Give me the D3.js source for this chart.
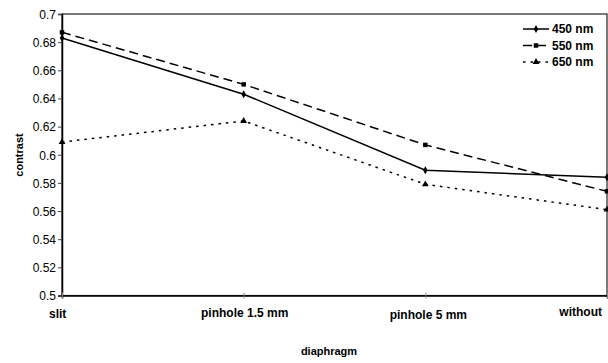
<!DOCTYPE html>
<html>
<head>
<meta charset="utf-8">
<script src="https://cdn.jsdelivr.net/npm/d3@7"></script>
<style>
  body { margin: 0; background: #fff; }
  text { font-family: "Liberation Sans", Arial, sans-serif; fill: #000; }
</style>
</head>
<body>
<svg id="chart" width="608" height="363"></svg>
<script>
// data
const categories = ["slit", "pinhole 1.5 mm", "pinhole 5 mm", "without"];
const s450 = [0.683, 0.643, 0.589, 0.584];
const s550 = [0.687, 0.650, 0.607, 0.574];
const s650 = [0.609, 0.624, 0.579, 0.561];
const yTicks = [0.5, 0.52, 0.54, 0.56, 0.58, 0.6, 0.62, 0.64, 0.66, 0.68, 0.7];

const series = [
  { name: "450 nm", values: s450, dash: null, marker: "diamond" },
  { name: "550 nm", values: s550, dash: "9,5", marker: "square" },
  { name: "650 nm", values: s650, dash: "2.5,5", marker: "triangle" }
];

const svg = d3.select("#chart");
const plotL = 62, plotR = 607, plotT = 14, plotB = 295.5;

const x = d3.scalePoint().domain(categories).range([plotL, plotR]);
const y = d3.scaleLinear().domain([0.5, 0.7]).range([plotB, plotT]);

// plot frame
svg.append("rect")
  .attr("x", plotL).attr("y", plotT)
  .attr("width", plotR - plotL).attr("height", plotB - plotT)
  .attr("fill", "none").attr("stroke", "#222").attr("stroke-width", 1.2);

/* ---------- axes ---------- */
const yAxis = svg.append("g")
  .attr("transform", `translate(${plotL},0)`)
  .call(d3.axisLeft(y).tickValues(yTicks).tickSize(4).tickFormat(d3.format("")));
yAxis.select(".domain").attr("stroke", "#000").attr("stroke-width", 1.5);
yAxis.selectAll(".tick line").attr("stroke", "#444");
yAxis.selectAll(".tick text")
  .attr("x", -6).attr("dy", "0.36em")
  .style("font-size", "12px");

const xAxis = svg.append("g")
  .attr("transform", `translate(0,${plotB})`)
  .call(d3.axisBottom(x).tickSize(3).tickFormat(""));
xAxis.select(".domain").attr("stroke", "#000").attr("stroke-width", 1.5);
xAxis.selectAll(".tick line").attr("stroke", "#888").attr("y1", -3);

// category labels (Excel staggered them a little)
const labelY = { "slit": 318, "pinhole 1.5 mm": 317, "pinhole 5 mm": 319, "without": 316 };
const labelDx = { "slit": -13, "pinhole 1.5 mm": 1, "pinhole 5 mm": 3, "without": -5 };
svg.append("g").selectAll("text")
  .data(categories)
  .enter().append("text")
  .attr("x", d => x(d) + labelDx[d])
  .attr("y", d => labelY[d])
  .attr("text-anchor", (d, i) => i === 0 ? "start" : i === categories.length - 1 ? "end" : "middle")
  .style("font-size", "12px").style("font-weight", "bold")
  .text(d => d);

// axis titles
svg.append("text")
  .attr("x", 329).attr("y", 355)
  .attr("text-anchor", "middle")
  .style("font-size", "11px").style("font-weight", "bold")
  .text("diaphragm");

svg.append("text")
  .attr("transform", "translate(23,155) rotate(-90)")
  .attr("text-anchor", "middle")
  .style("font-size", "11px").style("font-weight", "bold")
  .text("contrast");

/* ---------- lines + markers ---------- */
const line = d3.line()
  .x((d, i) => x(categories[i]))
  .y(d => y(d));

const markerPath = {
  diamond: d3.symbol().type(d3.symbolDiamond).size(18),
  square: d3.symbol().type(d3.symbolSquare).size(20),
  triangle: d3.symbol().type(d3.symbolTriangle).size(20)
};

series.forEach(s => {
  svg.append("path")
    .datum(s.values)
    .attr("d", line)
    .attr("fill", "none")
    .attr("stroke", "#000")
    .attr("stroke-width", 1.5)
    .attr("stroke-dasharray", s.dash);

  svg.append("g").selectAll("path")
    .data(s.values)
    .enter().append("path")
    .attr("transform", (d, i) => `translate(${x(categories[i])},${y(d)})`)
    .attr("d", markerPath[s.marker]())
    .attr("fill", "#000");
});

/* ---------- legend ---------- */
const legend = svg.append("g").attr("transform", "translate(523,29)");
series.forEach((s, i) => {
  const g = legend.append("g").attr("transform", `translate(0,${i * 16.5})`);
  g.append("line")
    .attr("x1", 0).attr("x2", 26)
    .attr("stroke", "#000").attr("stroke-width", 1.5)
    .attr("stroke-dasharray", s.dash);
  g.append("path")
    .attr("transform", "translate(13,0)")
    .attr("d", markerPath[s.marker]())
    .attr("fill", "#000");
  g.append("text")
    .attr("x", 29).attr("dy", "0.36em")
    .style("font-size", "12px").style("font-weight", "bold")
    .text(s.name);
});
</script>
</body>
</html>
